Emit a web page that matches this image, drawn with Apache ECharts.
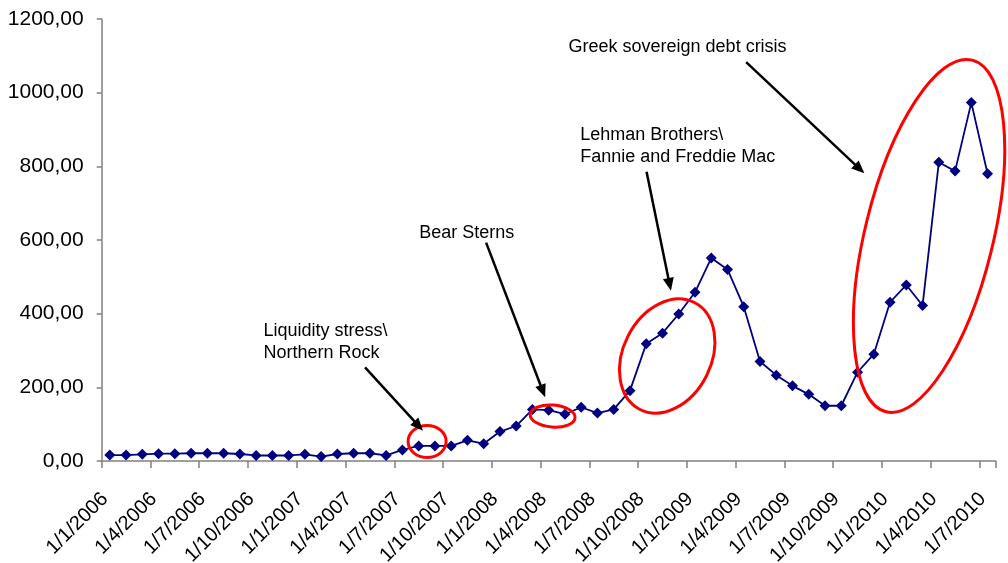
<!DOCTYPE html>
<html>
<head>
<meta charset="utf-8">
<script src="https://cdn.jsdelivr.net/npm/echarts/dist/echarts.min.js"></script>
<style>
    html, body { margin: 0; padding: 0; background: #fff; }
    #chartWrapper { width: 1008px; height: 563px; }
</style>
</head>
<body>
<div id="chartWrapper"></div>
<script>
// monthly categories, Jan 2006 .. Jul 2010
let months = [
    '1/1/2006', '1/2/2006', '1/3/2006', '1/4/2006', '1/5/2006', '1/6/2006',
    '1/7/2006', '1/8/2006', '1/9/2006', '1/10/2006', '1/11/2006', '1/12/2006',
    '1/1/2007', '1/2/2007', '1/3/2007', '1/4/2007', '1/5/2007', '1/6/2007',
    '1/7/2007', '1/8/2007', '1/9/2007', '1/10/2007', '1/11/2007', '1/12/2007',
    '1/1/2008', '1/2/2008', '1/3/2008', '1/4/2008', '1/5/2008', '1/6/2008',
    '1/7/2008', '1/8/2008', '1/9/2008', '1/10/2008', '1/11/2008', '1/12/2008',
    '1/1/2009', '1/2/2009', '1/3/2009', '1/4/2009', '1/5/2009', '1/6/2009',
    '1/7/2009', '1/8/2009', '1/9/2009', '1/10/2009', '1/11/2009', '1/12/2009',
    '1/1/2010', '1/2/2010', '1/3/2010', '1/4/2010', '1/5/2010', '1/6/2010',
    '1/7/2010'
];

let values = [
    16, 16, 18, 20, 20, 21, 21, 21, 19, 15, 15, 15,
    18, 12, 19, 21, 21, 15, 30, 41, 41, 41, 56, 47,
    80, 95, 140, 138, 127, 146, 130, 140, 191, 318, 347, 399,
    458, 551, 520, 419, 270, 233, 204, 181, 150, 150, 241, 290,
    431, 478, 422, 811, 787, 973, 780
];

let yTicks = [0, 200, 400, 600, 800, 1000, 1200];

// annotations, anchored in data space (month index, value)
let circles = [
    {at: [19.52, 53], rx: 19, ry: 16, rot: 0},
    {at: [27.24, 122], rx: 22.5, ry: 11, rot: -0.08},
    {at: [34.29, 285], rx: 44, ry: 60, rot: -0.47},
    {at: [50.4, 611], rx: 64, ry: 181, rot: -0.24}
];

let arrows = [
    {from: [15.70, 254], to: [19.27, 82]},
    {from: [23.15, 593], to: [26.78, 173]},
    {from: [33.02, 785], to: [34.52, 462]},
    {from: [39.15, 1083], to: [46.42, 781]}
];

let notes = [
    {at: [9.45, 322], text: 'Liquidity stress\\\nNorthern Rock'},
    {at: [19.03, 618], text: 'Bear Sterns'},
    {at: [28.94, 855], text: 'Lehman Brothers\\\nFannie and Freddie Mac'},
    {at: [28.22, 1124], text: 'Greek sovereign debt crisis'}
];

let fontName = '"Liberation Sans", Arial, sans-serif';

let myChart = echarts.init(document.getElementById('chartWrapper'));

let option = {
    animation: false,
    backgroundColor: '#fff',
    grid: {
        left: 101.7,
        right: 12.3,
        top: 19,
        bottom: 102,
        outerBoundsMode: 'none'
    },
    xAxis: {
        type: 'category',
        data: months,
        boundaryGap: true,
        axisLine: {lineStyle: {color: '#808080', width: 1.5}},
        axisTick: {show: true, interval: 2, length: 7, lineStyle: {color: '#808080', width: 1.5}},
        axisLabel: {
            interval: 2,
            rotate: 45,
            margin: 30,
            padding: [0, 7, 0, 0],
            color: '#000',
            fontSize: 20,
            fontFamily: fontName,
            hideOverlap: false
        },
        splitLine: {show: false}
    },
    yAxis: {
        type: 'value',
        min: yTicks[0],
        max: yTicks[yTicks.length - 1],
        interval: 200,
        axisLine: {show: true, lineStyle: {color: '#808080', width: 1.5}},
        axisTick: {show: true, length: 5, lineStyle: {color: '#808080', width: 1.5}},
        axisLabel: {
            margin: 18,
            color: '#000',
            fontSize: 21,
            fontFamily: fontName,
            formatter: function (v) {
                return v.toFixed(2).replace('.', ',');
            }
        },
        splitLine: {show: false}
    },
    series: [{
        type: 'line',
        data: values,
        symbol: 'diamond',
        symbolSize: 11,
        showSymbol: true,
        showAllSymbol: true,
        lineStyle: {color: '#000080', width: 1.8},
        itemStyle: {color: '#000080'}
    }]
};

myChart.setOption(option);

// month index can be fractional: interpolate between two category positions
function toPx(p) {
    let i0 = Math.floor(p[0]);
    let a = myChart.convertToPixel({gridIndex: 0}, [i0, p[1]]);
    let b = myChart.convertToPixel({gridIndex: 0}, [i0 + 1, p[1]]);
    return [a[0] + (b[0] - a[0]) * (p[0] - i0), a[1]];
}

let graphics = [];

circles.forEach(function (c) {
    let p = toPx(c.at);
    graphics.push({
        type: 'ellipse',
        x: p[0],
        y: p[1],
        rotation: c.rot,
        z: 100,
        silent: true,
        shape: {cx: 0, cy: 0, rx: c.rx, ry: c.ry},
        style: {fill: 'transparent', stroke: '#ff0000', lineWidth: 3}
    });
});

arrows.forEach(function (a) {
    let s = toPx(a.from);
    let t = toPx(a.to);
    let dx = t[0] - s[0], dy = t[1] - s[1];
    let len = Math.sqrt(dx * dx + dy * dy);
    let ux = dx / len, uy = dy / len;
    let headLen = 13, headHalf = 5.5;
    let bx = t[0] - ux * headLen, by = t[1] - uy * headLen;
    graphics.push({
        type: 'line',
        z: 100,
        silent: true,
        shape: {x1: s[0], y1: s[1], x2: bx + ux, y2: by + uy},
        style: {stroke: '#000', lineWidth: 2.5}
    });
    graphics.push({
        type: 'polygon',
        z: 100,
        silent: true,
        shape: {points: [
            [t[0], t[1]],
            [bx - uy * headHalf, by + ux * headHalf],
            [bx + uy * headHalf, by - ux * headHalf]
        ]},
        style: {fill: '#000'}
    });
});

notes.forEach(function (n) {
    let p = toPx(n.at);
    graphics.push({
        type: 'text',
        x: p[0],
        y: p[1],
        z: 100,
        silent: true,
        style: {
            text: n.text,
            fill: '#000',
            fontSize: 18,
            fontFamily: fontName,
            lineHeight: 22,
            align: 'left',
            verticalAlign: 'middle'
        }
    });
});

myChart.setOption({graphic: graphics});
</script>
</body>
</html>
